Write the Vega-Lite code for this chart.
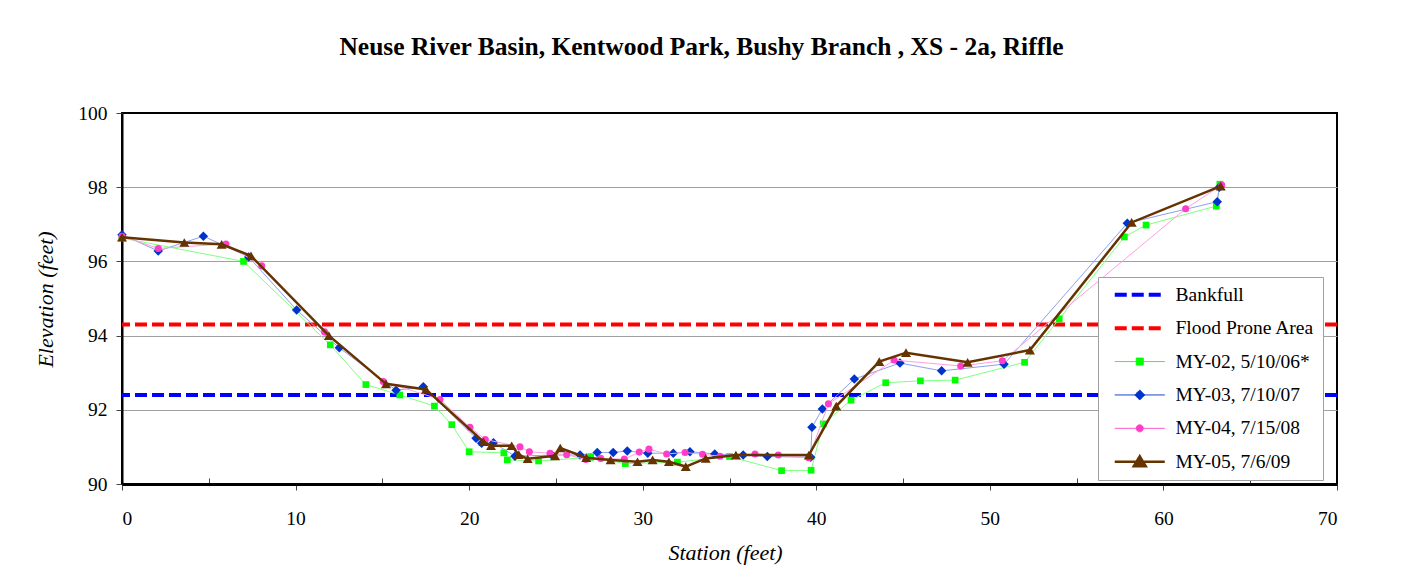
{
  "$schema": "https://vega.github.io/schema/vega-lite/v6.json",
  "width": 1215,
  "height": 371,
  "autosize": {"type": "none"},
  "padding": {"left": 122, "top": 113, "right": 66, "bottom": 100},
  "background": "white",
  "title": {
    "text": "Neuse River Basin, Kentwood Park, Bushy Branch , XS - 2a, Riffle",
    "font": "Liberation Serif", "fontSize": 25.5, "fontWeight": "bold", "color": "black",
    "anchor": "middle", "frame": "group", "dx": -28, "offset": 43
  },
  "config": {
    "view": {"stroke": "black", "strokeWidth": 2},
    "axis": {
      "labelFont": "Liberation Serif", "labelFontSize": 19.5, "labelColor": "black",
      "titleFont": "Liberation Serif", "titleFontSize": 22, "titleFontStyle": "italic",
      "titleFontWeight": "normal", "titleColor": "black",
      "domainColor": "black", "tickColor": "#444444", "tickWidth": 1
    }
  },
  "data": {
    "values": [
      {"series": "Bankfull", "elev": 92.4},
      {"series": "Flood Prone Area", "elev": 94.3},
      {"series": "MY-02, 5/10/06*", "station": 0, "elev": 96.63},
      {"series": "MY-02, 5/10/06*", "station": 7.0, "elev": 96.0},
      {"series": "MY-02, 5/10/06*", "station": 12.0, "elev": 93.75},
      {"series": "MY-02, 5/10/06*", "station": 14.05, "elev": 92.68},
      {"series": "MY-02, 5/10/06*", "station": 16.0, "elev": 92.4},
      {"series": "MY-02, 5/10/06*", "station": 18.0, "elev": 92.1},
      {"series": "MY-02, 5/10/06*", "station": 19.0, "elev": 91.6},
      {"series": "MY-02, 5/10/06*", "station": 20.0, "elev": 90.87},
      {"series": "MY-02, 5/10/06*", "station": 22.0, "elev": 90.84},
      {"series": "MY-02, 5/10/06*", "station": 22.2, "elev": 90.65},
      {"series": "MY-02, 5/10/06*", "station": 24.0, "elev": 90.62},
      {"series": "MY-02, 5/10/06*", "station": 27.0, "elev": 90.72},
      {"series": "MY-02, 5/10/06*", "station": 29.0, "elev": 90.55},
      {"series": "MY-02, 5/10/06*", "station": 32.0, "elev": 90.59},
      {"series": "MY-02, 5/10/06*", "station": 35.0, "elev": 90.74},
      {"series": "MY-02, 5/10/06*", "station": 38.0, "elev": 90.36},
      {"series": "MY-02, 5/10/06*", "station": 39.7, "elev": 90.37},
      {"series": "MY-02, 5/10/06*", "station": 40.4, "elev": 91.62},
      {"series": "MY-02, 5/10/06*", "station": 42.0, "elev": 92.26},
      {"series": "MY-02, 5/10/06*", "station": 44.0, "elev": 92.73},
      {"series": "MY-02, 5/10/06*", "station": 46.0, "elev": 92.78},
      {"series": "MY-02, 5/10/06*", "station": 48.0, "elev": 92.8},
      {"series": "MY-02, 5/10/06*", "station": 52.0, "elev": 93.28},
      {"series": "MY-02, 5/10/06*", "station": 54.0, "elev": 94.45},
      {"series": "MY-02, 5/10/06*", "station": 57.75, "elev": 96.66},
      {"series": "MY-02, 5/10/06*", "station": 59.0, "elev": 96.98},
      {"series": "MY-02, 5/10/06*", "station": 63.05, "elev": 97.49},
      {"series": "MY-02, 5/10/06*", "station": 63.25, "elev": 98.08},
      {"series": "MY-03, 7/10/07", "station": 0, "elev": 96.72},
      {"series": "MY-03, 7/10/07", "station": 2.09, "elev": 96.28},
      {"series": "MY-03, 7/10/07", "station": 4.69, "elev": 96.68},
      {"series": "MY-03, 7/10/07", "station": 7.3, "elev": 96.12},
      {"series": "MY-03, 7/10/07", "station": 10.06, "elev": 94.69},
      {"series": "MY-03, 7/10/07", "station": 12.52, "elev": 93.67},
      {"series": "MY-03, 7/10/07", "station": 15.79, "elev": 92.53},
      {"series": "MY-03, 7/10/07", "station": 17.36, "elev": 92.62},
      {"series": "MY-03, 7/10/07", "station": 20.4, "elev": 91.23},
      {"series": "MY-03, 7/10/07", "station": 20.72, "elev": 91.1},
      {"series": "MY-03, 7/10/07", "station": 21.4, "elev": 91.11},
      {"series": "MY-03, 7/10/07", "station": 22.64, "elev": 90.75},
      {"series": "MY-03, 7/10/07", "station": 24.76, "elev": 90.78},
      {"series": "MY-03, 7/10/07", "station": 26.39, "elev": 90.78},
      {"series": "MY-03, 7/10/07", "station": 27.38, "elev": 90.85},
      {"series": "MY-03, 7/10/07", "station": 28.3, "elev": 90.85},
      {"series": "MY-03, 7/10/07", "station": 29.11, "elev": 90.89},
      {"series": "MY-03, 7/10/07", "station": 30.29, "elev": 90.83},
      {"series": "MY-03, 7/10/07", "station": 31.76, "elev": 90.83},
      {"series": "MY-03, 7/10/07", "station": 32.72, "elev": 90.87},
      {"series": "MY-03, 7/10/07", "station": 34.15, "elev": 90.81},
      {"series": "MY-03, 7/10/07", "station": 35.79, "elev": 90.78},
      {"series": "MY-03, 7/10/07", "station": 37.18, "elev": 90.74},
      {"series": "MY-03, 7/10/07", "station": 39.68, "elev": 90.72},
      {"series": "MY-03, 7/10/07", "station": 39.75, "elev": 91.53},
      {"series": "MY-03, 7/10/07", "station": 40.35, "elev": 92.02},
      {"series": "MY-03, 7/10/07", "station": 42.19, "elev": 92.83},
      {"series": "MY-03, 7/10/07", "station": 44.82, "elev": 93.26},
      {"series": "MY-03, 7/10/07", "station": 47.22, "elev": 93.05},
      {"series": "MY-03, 7/10/07", "station": 50.82, "elev": 93.23},
      {"series": "MY-03, 7/10/07", "station": 57.92, "elev": 97.03},
      {"series": "MY-03, 7/10/07", "station": 63.1, "elev": 97.61},
      {"series": "MY-03, 7/10/07", "station": 63.22, "elev": 98.0},
      {"series": "MY-04, 7/15/08", "station": 0, "elev": 96.68},
      {"series": "MY-04, 7/15/08", "station": 2.09, "elev": 96.35},
      {"series": "MY-04, 7/15/08", "station": 5.99, "elev": 96.47},
      {"series": "MY-04, 7/15/08", "station": 8.05, "elev": 95.88},
      {"series": "MY-04, 7/15/08", "station": 11.67, "elev": 94.1},
      {"series": "MY-04, 7/15/08", "station": 15.05, "elev": 92.76},
      {"series": "MY-04, 7/15/08", "station": 18.32, "elev": 92.28},
      {"series": "MY-04, 7/15/08", "station": 20.05, "elev": 91.53},
      {"series": "MY-04, 7/15/08", "station": 20.93, "elev": 91.2},
      {"series": "MY-04, 7/15/08", "station": 22.93, "elev": 91.0},
      {"series": "MY-04, 7/15/08", "station": 23.47, "elev": 90.87},
      {"series": "MY-04, 7/15/08", "station": 24.66, "elev": 90.83},
      {"series": "MY-04, 7/15/08", "station": 25.62, "elev": 90.79},
      {"series": "MY-04, 7/15/08", "station": 26.73, "elev": 90.66},
      {"series": "MY-04, 7/15/08", "station": 27.58, "elev": 90.69},
      {"series": "MY-04, 7/15/08", "station": 28.94, "elev": 90.67},
      {"series": "MY-04, 7/15/08", "station": 29.8, "elev": 90.86},
      {"series": "MY-04, 7/15/08", "station": 30.36, "elev": 90.94},
      {"series": "MY-04, 7/15/08", "station": 31.38, "elev": 90.81},
      {"series": "MY-04, 7/15/08", "station": 32.44, "elev": 90.85},
      {"series": "MY-04, 7/15/08", "station": 33.45, "elev": 90.8},
      {"series": "MY-04, 7/15/08", "station": 34.45, "elev": 90.75},
      {"series": "MY-04, 7/15/08", "station": 36.47, "elev": 90.81},
      {"series": "MY-04, 7/15/08", "station": 37.81, "elev": 90.78},
      {"series": "MY-04, 7/15/08", "station": 39.57, "elev": 90.71},
      {"series": "MY-04, 7/15/08", "station": 40.7, "elev": 92.16},
      {"series": "MY-04, 7/15/08", "station": 44.48, "elev": 93.34},
      {"series": "MY-04, 7/15/08", "station": 48.32, "elev": 93.18},
      {"series": "MY-04, 7/15/08", "station": 50.72, "elev": 93.32},
      {"series": "MY-04, 7/15/08", "station": 61.28, "elev": 97.42},
      {"series": "MY-04, 7/15/08", "station": 63.36, "elev": 98.06},
      {"series": "MY-05, 7/6/09", "station": 0, "elev": 96.65},
      {"series": "MY-05, 7/6/09", "station": 3.59, "elev": 96.51},
      {"series": "MY-05, 7/6/09", "station": 5.74, "elev": 96.46},
      {"series": "MY-05, 7/6/09", "station": 7.43, "elev": 96.15},
      {"series": "MY-05, 7/6/09", "station": 11.92, "elev": 94.0},
      {"series": "MY-05, 7/6/09", "station": 15.21, "elev": 92.7},
      {"series": "MY-05, 7/6/09", "station": 17.51, "elev": 92.55},
      {"series": "MY-05, 7/6/09", "station": 20.82, "elev": 91.14},
      {"series": "MY-05, 7/6/09", "station": 21.26, "elev": 91.03},
      {"series": "MY-05, 7/6/09", "station": 22.45, "elev": 91.03},
      {"series": "MY-05, 7/6/09", "station": 22.86, "elev": 90.79},
      {"series": "MY-05, 7/6/09", "station": 23.37, "elev": 90.68},
      {"series": "MY-05, 7/6/09", "station": 24.95, "elev": 90.76},
      {"series": "MY-05, 7/6/09", "station": 25.25, "elev": 90.97},
      {"series": "MY-05, 7/6/09", "station": 26.75, "elev": 90.71},
      {"series": "MY-05, 7/6/09", "station": 28.15, "elev": 90.65},
      {"series": "MY-05, 7/6/09", "station": 29.7, "elev": 90.6},
      {"series": "MY-05, 7/6/09", "station": 30.57, "elev": 90.65},
      {"series": "MY-05, 7/6/09", "station": 31.51, "elev": 90.6},
      {"series": "MY-05, 7/6/09", "station": 32.48, "elev": 90.47},
      {"series": "MY-05, 7/6/09", "station": 33.63, "elev": 90.69},
      {"series": "MY-05, 7/6/09", "station": 35.37, "elev": 90.78},
      {"series": "MY-05, 7/6/09", "station": 39.57, "elev": 90.78},
      {"series": "MY-05, 7/6/09", "station": 41.15, "elev": 92.1},
      {"series": "MY-05, 7/6/09", "station": 43.63, "elev": 93.3},
      {"series": "MY-05, 7/6/09", "station": 45.17, "elev": 93.54},
      {"series": "MY-05, 7/6/09", "station": 48.72, "elev": 93.28},
      {"series": "MY-05, 7/6/09", "station": 52.31, "elev": 93.61},
      {"series": "MY-05, 7/6/09", "station": 58.17, "elev": 97.05},
      {"series": "MY-05, 7/6/09", "station": 63.3, "elev": 98.03}
    ]
  },
  "layer": [
    {
      "transform": [{"filter": "datum.series == 'Bankfull' || datum.series == 'Flood Prone Area'"}],
      "mark": {"type": "rule", "strokeWidth": 4, "strokeDash": [12, 5]},
      "encoding": {
        "y": {
          "field": "elev", "type": "quantitative",
          "scale": {"domain": [90, 100], "nice": false, "zero": false},
          "axis": {
            "title": "Elevation (feet)",
            "values": [90, 91, 92, 93, 94, 95, 96, 97, 98, 99, 100],
            "labelExpr": "datum.value % 2 == 0 ? datum.label : ''",
            "grid": true, "gridColor": "#A0A0A0", "gridWidth": 1,
            "gridOpacity": {"condition": {"test": "datum.value % 2 != 0 || datum.value == 90 || datum.value == 100", "value": 0}, "value": 1},
            "domainWidth": 2, "tickSize": 6, "labelPadding": 9,
            "titleAngle": -90, "titleX": -77, "titleY": 186, "titleAlign": "center", "titleBaseline": "middle"
          }
        },
        "color": {
          "field": "series", "type": "nominal",
          "scale": {
            "domain": ["Bankfull", "Flood Prone Area", "MY-02, 5/10/06*", "MY-03, 7/10/07", "MY-04, 7/15/08", "MY-05, 7/6/09"],
            "range": ["#0000FF", "#FF0000", "#00FF00", "#0033CC", "#FF3DC8", "#663300"]
          },
          "legend": {
            "title": null, "orient": "none", "legendX": 976, "legendY": 164, "direction": "vertical",
            "fillColor": "white", "strokeColor": "#A0A0A0", "padding": 8,
            "symbolSize": 400, "labelFont": "Liberation Serif", "labelFontSize": 19.5, "labelColor": "black",
            "labelOffset": 50, "rowPadding": 12.4, "labelExpr": "datum.label + '\\u00a0\\u00a0'",
            "encode": {
              "symbols": {
                "update": {
                  "shape": {"signal": "datum.value == 'MY-02, 5/10/06*' ? 'M-0.1,0H4.9M2.05,-0.35H2.75V0.35H2.05Z' : datum.value == 'MY-03, 7/10/07' ? 'M-0.1,0H4.9M2.4,-0.5L2.9,0L2.4,0.5L1.9,0Z' : datum.value == 'MY-04, 7/15/08' ? 'M-0.1,0H4.9M2.05,0A0.35,0.35 0 1,0 2.75,0A0.35,0.35 0 1,0 2.05,0Z' : datum.value == 'MY-05, 7/6/09' ? 'M-0.1,0H4.9M2.4,-0.55L3.0,0.45L1.8,0.45Z' : 'M-0.1,0H4.9'"},
                  "stroke": {"signal": "datum.value == 'Bankfull' ? '#0000FF' : datum.value == 'Flood Prone Area' ? '#FF0000' : datum.value == 'MY-02, 5/10/06*' ? '#80FF80' : datum.value == 'MY-03, 7/10/07' ? '#8DA0EE' : datum.value == 'MY-04, 7/15/08' ? '#FFA0E0' : '#663300'"},
                  "fill": {"signal": "datum.value == 'MY-02, 5/10/06*' ? '#00FF00' : datum.value == 'MY-03, 7/10/07' ? '#0033CC' : datum.value == 'MY-04, 7/15/08' ? '#FF3DC8' : datum.value == 'MY-05, 7/6/09' ? '#663300' : 'transparent'"},
                  "strokeWidth": {"signal": "datum.value == 'Bankfull' || datum.value == 'Flood Prone Area' ? 4 : datum.value == 'MY-05, 7/6/09' ? 2.5 : 1"},
                  "strokeDash": {"signal": "datum.value == 'Bankfull' || datum.value == 'Flood Prone Area' ? [12, 5] : [1, 0]"},
                  "opacity": {"value": 1}
                }
              }
            }
          }
        }
      }
    },
    {
      "transform": [{"filter": "datum.series == 'MY-02, 5/10/06*'"}],
      "mark": {"type": "line", "strokeWidth": 1, "color": "#80FF80"},
      "encoding": {
        "x": {
          "field": "station", "type": "quantitative",
          "scale": {"domain": [0, 70], "nice": false, "zero": false},
          "axis": {
            "title": "Station (feet)",
            "values": [0, 5, 10, 15, 20, 25, 30, 35, 40, 45, 50, 55, 60, 65, 70],
            "labelExpr": "datum.value % 10 == 0 ? datum.label : ''",
            "grid": false, "domainWidth": 3,
            "tickSize": {"condition": {"test": "datum.value % 10 != 0", "value": -6}, "value": 6},
            "labelPadding": 19,
            "titleX": 603, "titleY": 68, "titleAlign": "center", "titleBaseline": "middle"
          }
        },
        "y": {"field": "elev", "type": "quantitative"}
      }
    },
    {
      "transform": [{"filter": "datum.series == 'MY-02, 5/10/06*'"}],
      "mark": {"type": "point", "shape": "square", "filled": true, "size": 45, "color": "#00FF00", "opacity": 1},
      "encoding": {
        "x": {"field": "station", "type": "quantitative"},
        "y": {"field": "elev", "type": "quantitative"}
      }
    },
    {
      "transform": [{"filter": "datum.series == 'MY-03, 7/10/07'"}],
      "mark": {"type": "line", "strokeWidth": 1, "color": "#8DA0EE"},
      "encoding": {
        "x": {"field": "station", "type": "quantitative"},
        "y": {"field": "elev", "type": "quantitative"}
      }
    },
    {
      "transform": [{"filter": "datum.series == 'MY-03, 7/10/07'"}],
      "mark": {"type": "point", "shape": "diamond", "filled": true, "size": 90, "color": "#0033CC", "opacity": 1},
      "encoding": {
        "x": {"field": "station", "type": "quantitative"},
        "y": {"field": "elev", "type": "quantitative"}
      }
    },
    {
      "transform": [{"filter": "datum.series == 'MY-04, 7/15/08'"}],
      "mark": {"type": "line", "strokeWidth": 1, "color": "#FFA0E0"},
      "encoding": {
        "x": {"field": "station", "type": "quantitative"},
        "y": {"field": "elev", "type": "quantitative"}
      }
    },
    {
      "transform": [{"filter": "datum.series == 'MY-04, 7/15/08'"}],
      "mark": {"type": "point", "shape": "circle", "filled": true, "size": 50, "color": "#FF3DC8", "opacity": 1},
      "encoding": {
        "x": {"field": "station", "type": "quantitative"},
        "y": {"field": "elev", "type": "quantitative"}
      }
    },
    {
      "transform": [{"filter": "datum.series == 'MY-05, 7/6/09'"}],
      "mark": {"type": "line", "strokeWidth": 2.5, "color": "#663300"},
      "encoding": {
        "x": {"field": "station", "type": "quantitative"},
        "y": {"field": "elev", "type": "quantitative"}
      }
    },
    {
      "transform": [{"filter": "datum.series == 'MY-05, 7/6/09'"}],
      "mark": {"type": "point", "shape": "triangle-up", "filled": true, "size": 100, "color": "#663300", "opacity": 1},
      "encoding": {
        "x": {"field": "station", "type": "quantitative"},
        "y": {"field": "elev", "type": "quantitative"}
      }
    }
  ]
}
